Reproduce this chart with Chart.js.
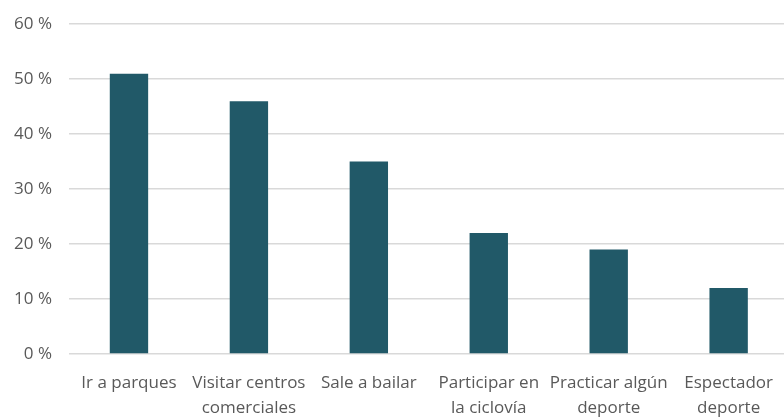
<!DOCTYPE html>
<html><head><meta charset="utf-8">
<script src="https://cdn.jsdelivr.net/npm/chart.js@4"></script>
<style>html,body{margin:0;padding:0;overflow:hidden;background:#fff;width:784px;height:417px}#w{width:790px;height:420px;margin-top:-3px;position:relative}</style>
</head><body><div id="w"><canvas id="c"></canvas></div>
<script>
const categories = [["Ir a parques"], ["Visitar centros", "comerciales"], ["Sale a bailar"], ["Participar en", "la ciclovía"], ["Practicar algún", "deporte"], ["Espectador", "deporte"]];
const values = [51, 46, 35, 22, 19, 12];
const yTicks = [0, 10, 20, 30, 40, 50, 60];
new Chart(document.getElementById('c'), {
  type: 'bar',
  data: { labels: categories, datasets: [{ data: values, backgroundColor: '#215968', barPercentage: 0.64, categoryPercentage: 0.5 }] },
  options: {
    responsive: true, maintainAspectRatio: false, animation: false,
    layout: { padding: { top: 10, right: 0, left: 0, bottom: 0 } },
    plugins: { legend: { display: false }, tooltip: { enabled: false } },
    scales: {
      x: {
        grid: { display: false, drawTicks: false }, border: { display: false },
        ticks: { color: '#595959', font: { family: 'Open Sans', size: 17, lineHeight: 1.45 }, padding: 17, maxRotation: 0, autoSkip: false },
        afterFit: s => { s.height = 63; }
      },
      y: {
        min: 0, max: 60,
        afterBuildTicks: s => { s.ticks = yTicks.map(v => ({ value: v })); },
        grid: { color: '#d9d9d9', lineWidth: 1.5, drawTicks: false }, border: { display: false },
        ticks: { color: '#595959', font: { family: 'Open Sans', size: 17 }, padding: 17, callback: v => v + ' %' },
        afterFit: s => { s.width = 69; }
      }
    }
  }
});
</script></body></html>
